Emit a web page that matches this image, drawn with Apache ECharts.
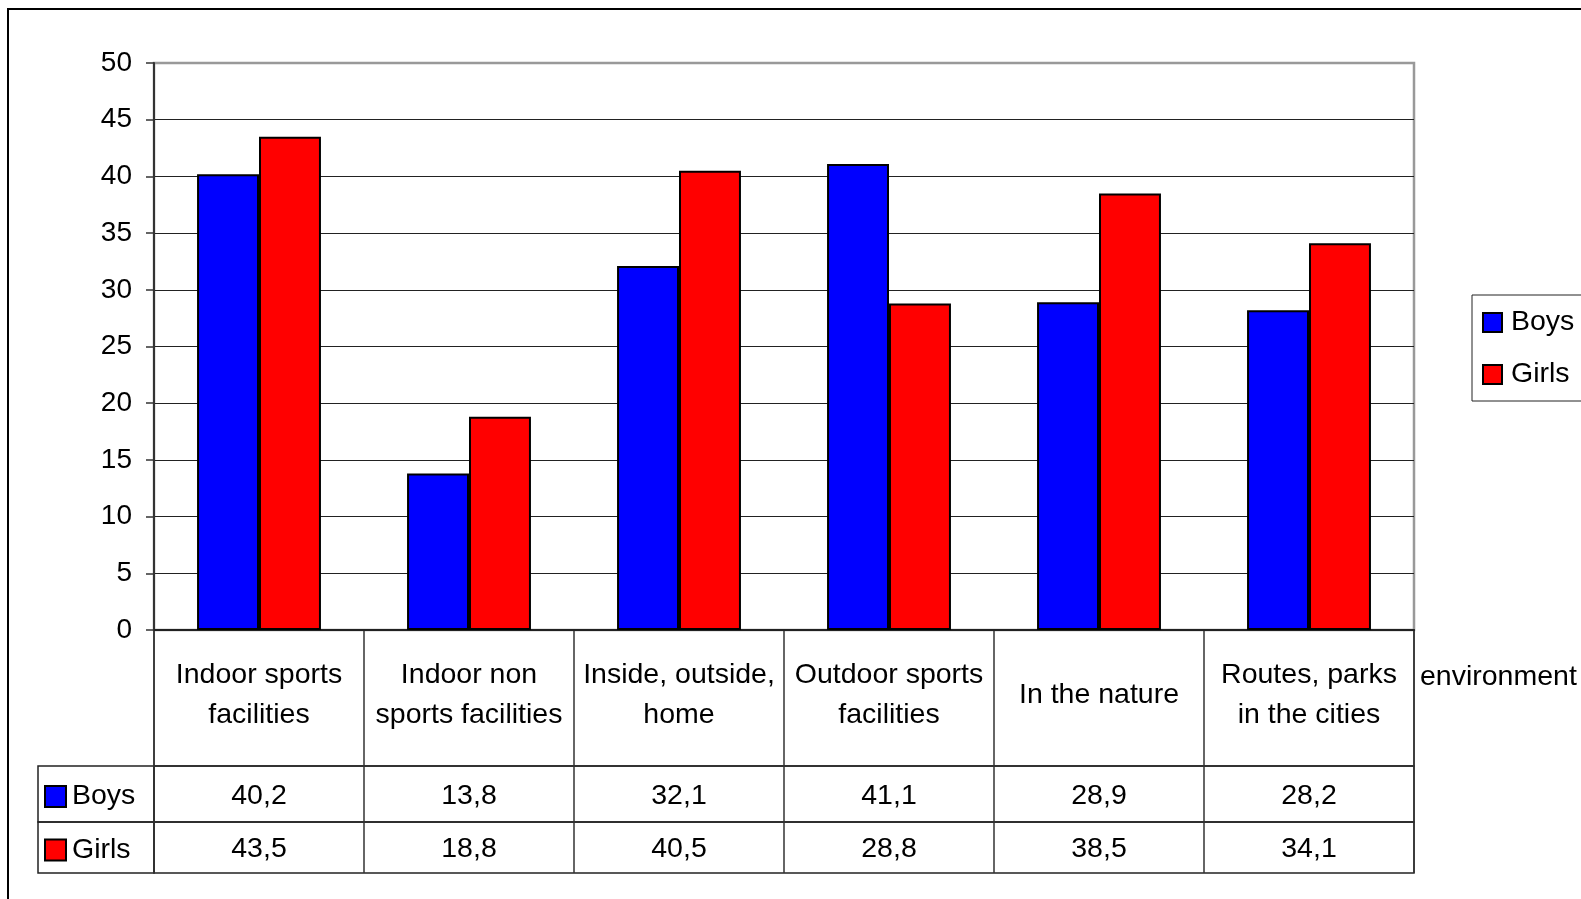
<!DOCTYPE html>
<html>
<head>
<meta charset="utf-8">
<script src="https://cdn.jsdelivr.net/npm/echarts@6/dist/echarts.min.js"></script>
<style>
html,body{margin:0;padding:0;background:#fff;}
#chart{width:1581px;height:899px;}
</style>
</head>
<body>
<div id="chart"></div>
<script>
const categories = [
  "Indoor sports\nfacilities",
  "Indoor non\nsports facilities",
  "Inside, outside,\nhome",
  "Outdoor sports\nfacilities",
  "In the nature",
  "Routes, parks\nin the cities"
];
const seriesNames = ["Boys", "Girls"];
const boys = [40.2, 13.8, 32.1, 41.1, 28.9, 28.2];
const girls = [43.5, 18.8, 40.5, 28.8, 38.5, 34.1];
const yTicks = {min: 0, max: 50, interval: 5};
const axisName = "environment";

const FONT = "'Liberation Sans', Arial, Helvetica, sans-serif";
const BLUE = "#0000FF", RED = "#FF0000";
const fmt = v => String(v).replace('.', ',');

function textSeries(gridIdx, getText, dy) {
  return {
    type: 'custom',
    xAxisIndex: gridIdx, yAxisIndex: gridIdx,
    silent: true,
    data: categories.map((c, i) => [i, 0.5]),
    renderItem: (params, api) => {
      const p = api.coord([api.value(0), api.value(1)]);
      return {
        type: 'text',
        x: p[0], y: p[1] + (dy || 0),
        style: {
          text: getText(params.dataIndex),
          fill: '#000', fontSize: 28.5, fontFamily: FONT,
          lineHeight: 40, align: 'center', verticalAlign: 'middle'
        }
      };
    }
  };
}

const tableAxisX = (gi) => ({
  type: 'category', gridIndex: gi, data: categories,
  axisLine: {show: false}, axisTick: {show: false}, axisLabel: {show: false},
  splitLine: {show: true, lineStyle: {color: '#333', width: 1.5}}
});
const hiddenY = (gi) => ({type: 'value', gridIndex: gi, min: 0, max: 1, show: false});
const rowLabelAxis = (gi, name, color) => ({
  type: 'category', gridIndex: gi, data: [name],
  axisLine: {show: false}, axisTick: {show: false}, splitLine: {show: false},
  axisLabel: {
    inside: true, align: 'left', margin: 8,
    padding: [5, 0, 0, 0],
    formatter: v => '{sq|}{t|' + v + '}',
    rich: {
      sq: {width: 19, height: 19, backgroundColor: color, borderColor: '#000', borderWidth: 2},
      t: {fontSize: 28.5, color: '#000', padding: [0, 0, 0, 7], fontFamily: FONT}
    }
  }
});

const chart = echarts.init(document.getElementById('chart'));
chart.setOption({
  backgroundColor: '#fff',
  animation: false,
  textStyle: {fontFamily: FONT},
  graphic: [{
    type: 'rect', silent: true,
    shape: {x: 8, y: 9, width: 1620, height: 1000},
    style: {fill: 'none', stroke: '#000', lineWidth: 2}
  }],
  legend: {
    data: seriesNames,
    orient: 'vertical', left: 1472, top: 295,
    padding: [13, 40, 12, 10],
    itemWidth: 19, itemHeight: 19, itemGap: 23, icon: 'rect',
    itemStyle: {borderColor: '#000', borderWidth: 2},
    borderColor: '#222', borderWidth: 1,
    textStyle: {fontSize: 28.5, color: '#000', lineHeight: 28, padding: [0, 0, 0, 4], fontFamily: FONT}
  },
  grid: [
    {left: 154, top: 63, width: 1260, height: 567, show: true, borderColor: '#999', borderWidth: 2.5, containLabel: false},
    {left: 154, top: 630, width: 1260, height: 136, show: true, borderColor: '#333', borderWidth: 1.5},
    {left: 154, top: 766, width: 1260, height: 56, show: true, borderColor: '#222', borderWidth: 1.5},
    {left: 154, top: 822, width: 1260, height: 51, show: true, borderColor: '#222', borderWidth: 1.5},
    {left: 38, top: 766, width: 116, height: 56, show: true, borderColor: '#222', borderWidth: 1.5},
    {left: 38, top: 822, width: 116, height: 51, show: true, borderColor: '#222', borderWidth: 1.5}
  ],
  xAxis: [
    {
      type: 'category', gridIndex: 0, data: categories,
      axisLine: {show: true, lineStyle: {color: '#222', width: 2}},
      axisTick: {show: false}, axisLabel: {show: false},
      name: axisName, nameLocation: 'end', nameGap: 6,
      nameTextStyle: {fontSize: 28.5, color: '#000', verticalAlign: 'top', lineHeight: 28, padding: [33, 0, 0, 0], fontFamily: FONT}
    },
    tableAxisX(1), tableAxisX(2), tableAxisX(3),
    {type: 'value', gridIndex: 4, show: false},
    {type: 'value', gridIndex: 5, show: false}
  ],
  yAxis: [
    {
      type: 'value', gridIndex: 0,
      min: yTicks.min, max: yTicks.max, interval: yTicks.interval,
      axisLine: {show: true, lineStyle: {color: '#333', width: 2}},
      axisTick: {show: true, length: 8, lineStyle: {color: '#333', width: 1.5}},
      axisLabel: {fontSize: 28, color: '#000', margin: 22, fontFamily: FONT},
      splitLine: {show: true, showMaxLine: false, showMinLine: false, lineStyle: {color: '#222', width: 1}}
    },
    hiddenY(1), hiddenY(2), hiddenY(3),
    rowLabelAxis(4, seriesNames[0], BLUE),
    rowLabelAxis(5, seriesNames[1], RED)
  ],
  series: [
    {
      name: seriesNames[0], type: 'bar', xAxisIndex: 0, yAxisIndex: 0,
      data: boys, barGap: '0%', barCategoryGap: '41%',
      itemStyle: {color: BLUE, borderColor: '#000', borderWidth: 2}
    },
    {
      name: seriesNames[1], type: 'bar', xAxisIndex: 0, yAxisIndex: 0,
      data: girls, barGap: '0%', barCategoryGap: '41%',
      itemStyle: {color: RED, borderColor: '#000', borderWidth: 2}
    },
    textSeries(1, i => categories[i], -3),
    textSeries(2, i => fmt(boys[i]), 2),
    textSeries(3, i => fmt(girls[i]), 2)
  ]
});
</script>
</body>
</html>
